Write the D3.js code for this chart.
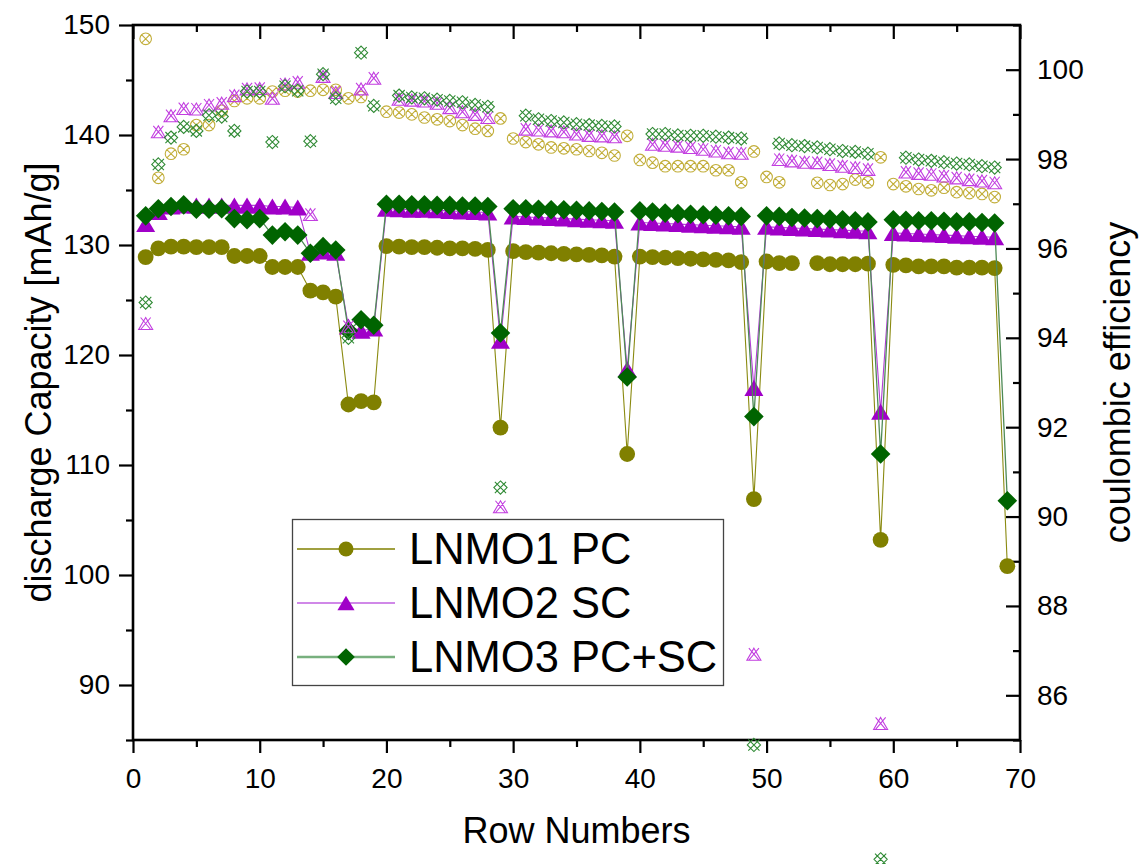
<!DOCTYPE html>
<html><head><meta charset="utf-8">
<script src="https://cdn.jsdelivr.net/npm/d3@7"></script>
<style>
body{margin:0;background:#fff;}
text{font-family:"Liberation Sans",Arial,sans-serif;fill:#000;}
</style>
</head><body>
<svg id="c" width="1139" height="864"></svg>
<script>
// ---------------- DATA ----------------
const rows = [1,2,3,4,5,6,7,8,9,10,11,12,13,14,15,16,17,18,19,20,21,22,23,24,25,26,27,28,29,30,
  31,32,33,34,35,36,37,38,39,40,41,42,43,44,45,46,47,48,49,50,51,52,53,54,55,56,57,58,59,60,
  61,62,63,64,65,66,67,68,69];

const seriesNames = ["LNMO1 PC","LNMO2 SC","LNMO3 PC+SC"];

// discharge capacity [mAh/g] (left axis)
const capLNMO1 = [128.9,129.7,129.85,129.85,129.8,129.8,129.8,129.0,129.0,129.0,128.0,128.0,128.0,125.85,125.7,125.3,115.5,115.8,115.7,129.9,
  129.85,129.8,129.8,129.75,129.7,129.7,129.65,129.55,113.4,129.45,129.35,129.3,129.25,129.2,129.15,129.1,129.05,128.95,111.0,128.95,
  128.9,128.85,128.8,128.75,128.7,128.65,128.6,128.45,106.9,128.5,128.35,128.35,null,128.35,128.25,128.25,128.25,128.3,103.2,128.2,
  128.15,128.05,128.05,128.05,127.95,127.95,127.95,127.9,100.8];
const capLNMO2 = [131.9,133.0,133.5,133.6,133.6,133.6,133.6,133.6,133.6,133.6,133.5,133.5,133.4,129.3,129.4,129.3,122.6,122.2,122.4,133.3,
  133.25,133.2,133.2,133.15,133.1,133.05,133.0,132.95,121.3,132.6,132.55,132.5,132.45,132.4,132.35,132.3,132.25,132.2,118.7,132.05,
  132.0,131.95,131.9,131.85,131.8,131.75,131.7,131.65,117.0,131.65,131.6,131.55,131.5,131.45,131.4,131.35,131.3,131.25,114.85,131.1,
  131.05,131.0,130.95,130.9,130.85,130.8,130.75,130.7,null];
const capLNMO3 = [132.65,133.3,133.5,133.65,133.25,133.25,133.3,132.4,132.3,132.4,130.9,131.2,130.9,129.25,129.85,129.55,122.2,123.2,122.7,133.7,
  133.7,133.65,133.65,133.6,133.6,133.55,133.55,133.5,122.0,133.3,133.3,133.25,133.2,133.2,133.15,133.1,133.05,133.0,118.0,133.1,
  133.0,132.9,132.85,132.8,132.75,132.7,132.65,132.6,114.4,132.65,132.6,132.5,132.45,132.4,132.35,132.3,132.2,132.1,111.0,132.3,
  132.25,132.2,132.2,132.15,132.1,132.1,132.05,132.0,106.75];

// coulombic efficiency [%] (right axis)
const ceLNMO1 = [100.69,97.58,98.12,98.22,98.76,98.76,99.08,99.3,99.36,99.36,99.51,99.53,99.51,99.53,99.55,99.55,99.36,99.39,null,99.06,
  99.04,99.0,98.93,98.89,98.85,98.76,98.68,98.63,98.91,98.46,98.38,98.33,98.26,98.24,98.22,98.18,98.14,98.08,98.52,97.98,
  97.92,97.84,97.84,97.84,97.84,97.75,97.75,97.48,98.17,97.6,97.48,null,null,97.47,97.42,97.44,97.54,97.48,98.04,97.44,
  97.39,97.33,97.30,97.36,97.26,97.24,97.22,97.15,null];
const ceLNMO2 = [94.32,98.61,98.97,99.13,99.12,99.21,99.25,99.42,99.57,99.58,99.36,99.68,99.72,96.76,99.85,99.49,94.25,99.57,99.81,null,
  99.34,99.32,99.30,99.25,99.15,99.06,99.0,98.93,90.22,null,98.67,98.65,98.63,98.61,98.56,98.53,98.52,98.50,null,null,
  98.33,98.31,98.29,98.26,98.22,98.18,98.14,98.13,86.92,null,97.99,97.96,97.93,97.92,97.88,97.84,97.81,97.77,85.37,null,
  97.71,97.68,97.66,97.62,97.58,97.54,97.51,97.47,null];
const ceLNMO3 = [94.79,97.88,98.48,98.72,98.63,98.98,98.95,98.63,99.51,99.51,98.38,99.63,99.53,98.40,99.90,99.36,94.0,100.38,99.19,null,
  99.42,99.38,99.36,99.33,99.30,99.27,99.21,99.17,90.65,null,98.97,98.89,98.85,98.82,98.78,98.76,98.74,98.73,null,null,
  98.56,98.56,98.53,98.52,98.52,98.50,98.48,98.46,84.89,null,98.35,98.31,98.29,98.26,98.22,98.18,98.16,98.12,82.33,null,
  98.03,97.99,97.96,97.93,97.90,97.88,97.84,97.81,null];

const xTicks = [0,10,20,30,40,50,60,70];
const xMinor = [5,15,25,35,45,55,65];
const leftTicks = [90,100,110,120,130,140,150];
const leftMinor = [85,95,105,115,125,135,145];
const rightTicks = [86,88,90,92,94,96,98,100];
const rightMinor = [85,87,89,91,93,95,97,99,101];

// ---------------- CHART ----------------
const svg = d3.select("#c");
const L=133, R=1020, T=25, B=740;
const x = d3.scaleLinear().domain([0,70]).range([L,R]);
const yL = d3.scaleLinear().domain([85,150]).range([B,T]);
const yR = d3.scaleLinear().domain([85,101]).range([B,T]);

svg.append("rect").attr("width",1139).attr("height",864).attr("fill","#fff");

function styleAxis(g, fs){
  g.select(".domain").remove();
  g.selectAll(".tick line").attr("stroke","#000").attr("stroke-width",2.2);
  g.selectAll(".tick text").attr("font-size",fs).attr("font-family",'"Liberation Sans",Arial,sans-serif').attr("fill","#000");
}
// bottom
styleAxis(svg.append("g").attr("transform",`translate(0,${B})`)
  .call(d3.axisBottom(x).tickValues(xTicks).tickSize(13).tickPadding(15).tickFormat(d3.format("d"))),"28px");
styleAxis(svg.append("g").attr("transform",`translate(0,${B})`)
  .call(d3.axisBottom(x).tickValues(xMinor).tickSize(7).tickFormat("")),"28px");
// top (inward)
styleAxis(svg.append("g").attr("transform",`translate(0,${T})`)
  .call(d3.axisTop(x).tickValues(xTicks).tickSize(-14).tickFormat("")),"28px");
styleAxis(svg.append("g").attr("transform",`translate(0,${T})`)
  .call(d3.axisTop(x).tickValues(xMinor).tickSize(-7).tickFormat("")),"28px");
// left
styleAxis(svg.append("g").attr("transform",`translate(${L},0)`)
  .call(d3.axisLeft(yL).tickValues(leftTicks).tickSize(14).tickPadding(9).tickFormat(d3.format("d"))),"28px");
styleAxis(svg.append("g").attr("transform",`translate(${L},0)`)
  .call(d3.axisLeft(yL).tickValues(leftMinor).tickSize(7).tickFormat("")),"28px");
// right (inward ticks)
styleAxis(svg.append("g").attr("transform",`translate(${R},0)`)
  .call(d3.axisRight(yR).tickValues(rightTicks).tickSizeInner(-14).tickSizeOuter(0).tickPadding(17).tickFormat(d3.format("d"))),"28px");
styleAxis(svg.append("g").attr("transform",`translate(${R},0)`)
  .call(d3.axisRight(yR).tickValues(rightMinor).tickSizeInner(-7).tickSizeOuter(0).tickFormat("")),"28px");

// frame
svg.append("rect").attr("x",L).attr("y",T).attr("width",R-L).attr("height",B-T)
  .attr("fill","none").attr("stroke","#000").attr("stroke-width",2.6);

// axis titles
svg.append("text").attr("transform",`translate(51,${(T+B)/2}) rotate(-90)`)
  .attr("text-anchor","middle").attr("font-size","36px").text("discharge Capacity [mAh/g]");
svg.append("text").attr("transform",`translate(1130,${(T+B)/2}) rotate(-90)`)
  .attr("text-anchor","middle").attr("font-size","36px").text("coulombic efficiency");
svg.append("text").attr("x",(L+R)/2).attr("y",843)
  .attr("text-anchor","middle").attr("font-size","36px").text("Row Numbers");

// marker shapes
function shapePath(kind){
  switch(kind){
    case "circle": { const r=7.9; return `M${-r},0A${r},${r} 0 1,0 ${r},0A${r},${r} 0 1,0 ${-r},0Z`; }
    case "triangle": { const w=19,h=16; return `M0,${-h/2}L${w/2},${h/2}L${-w/2},${h/2}Z`; }
    case "diamond": { const s=9.8; return `M0,${-s}L${s},0L0,${s}L${-s},0Z`; }
    case "circleX": { const r=5.8, a=r*0.72; return `M${-r},0A${r},${r} 0 1,0 ${r},0A${r},${r} 0 1,0 ${-r},0Z M${-a},${-a}L${a},${a}M${a},${-a}L${-a},${a}`; }
    case "triangleX": { const w=14,h=12; return `M0,${-h/2}L${w/2},${h/2}L${-w/2},${h/2}Z M${-w*0.36},${-h/2}L${w*0.36},${h/2}M${w*0.36},${-h/2}L${-w*0.36},${h/2}`; }
    case "diamondX": { const s=6.6, a=5.6; return `M0,${-s}L${s},0L0,${s}L${-s},0Z M${-a},${-a}L${a},${a}M${a},${-a}L${-a},${a}`; }
  }
}

const discharge = [
  {vals:capLNMO1, line:"#8a8a10", lw:1.1, shape:"circle", fill:"#808000"},
  {vals:capLNMO2, line:"#b23ed6", lw:1.1, shape:"triangle", fill:"#a000c8"},
  {vals:capLNMO3, line:"#4e8a56", lw:1.3, shape:"diamond", fill:"#006400"}
];
const ce = [
  {vals:ceLNMO1, color:"#c2ae3a", shape:"circleX"},
  {vals:ceLNMO2, color:"#c23ee0", shape:"triangleX"},
  {vals:ceLNMO3, color:"#2f8a34", shape:"diamondX"}
];

discharge.forEach(s=>{
  const pts = rows.map((r,i)=>({r, v:s.vals[i]}));
  const line = d3.line().defined(d=>d.v!=null).x(d=>x(d.r)).y(d=>yL(d.v));
  const g = svg.append("g");
  g.append("path").attr("d",line(pts)).attr("fill","none").attr("stroke",s.line).attr("stroke-width",s.lw);
  g.selectAll("path.m").data(pts.filter(d=>d.v!=null)).join("path").attr("class","m")
    .attr("transform",d=>`translate(${x(d.r)},${yL(d.v)})`)
    .attr("d",shapePath(s.shape)).attr("fill",s.fill).attr("stroke","none");
});
ce.forEach(s=>{
  const pts = rows.map((r,i)=>({r, v:s.vals[i]})).filter(d=>d.v!=null);
  svg.append("g").selectAll("path").data(pts).join("path")
    .attr("transform",d=>`translate(${x(d.r)},${yR(d.v)})`)
    .attr("d",shapePath(s.shape)).attr("fill","none").attr("stroke",s.color).attr("stroke-width",1.1);
});

// legend
const lg = svg.append("g");
lg.append("rect").attr("x",292.5).attr("y",519.5).attr("width",431).attr("height",166)
  .attr("fill","#fff").attr("stroke","#444").attr("stroke-width",1.3);
const legLines = ["#808000","#c060e0","#78b07e"];
const legLW = [1.3,1.6,2.4];
const legScale = [0.95,0.9,0.9];
seriesNames.forEach((name,i)=>{
  const cy = 549 + i*54;
  lg.append("line").attr("x1",297).attr("x2",395).attr("y1",cy).attr("y2",cy)
    .attr("stroke",legLines[i]).attr("stroke-width",legLW[i]);
  lg.append("path").attr("transform",`translate(346,${cy}) scale(${legScale[i]})`)
    .attr("d",shapePath(discharge[i].shape)).attr("fill",discharge[i].fill);
  lg.append("text").attr("x",409).attr("y",cy+15).attr("font-size","43.5px").text(name);
});
</script>
</body></html>
